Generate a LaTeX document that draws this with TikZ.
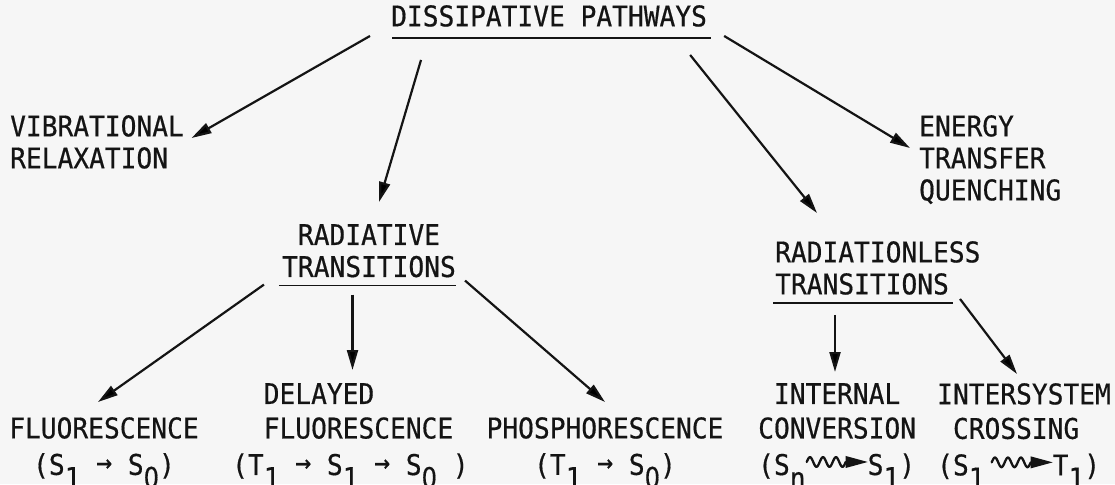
\documentclass[tikz,border=0pt]{standalone}
\usepackage{fontspec}
\newfontfamily\twfont[FakeStretch=0.92,FakeBold=0.5]{DejaVu Sans Mono}
\newfontfamily\zerofont[FakeStretch=0.85,FakeBold=0.5]{DejaVu Sans}
\usetikzlibrary{arrows.meta,calc}
\definecolor{ink}{RGB}{20,20,20}
\definecolor{paper}{RGB}{246,246,246}
\newcommand\lowsub[1]{\raisebox{-13pt}{#1}}
\newcommand\zr{{\zerofont 0}}
\newcommand\tarr{\raisebox{3pt}{→}}
\newcommand\wavearr[1]{\tikz[baseline=0pt,x=1pt,y=1pt]{%
  \pgfmathsetmacro\wend{#1-22}\pgfmathsetmacro\wper{(\wend-4)/3}%
  \draw[ink,line width=2.3pt,line cap=round] plot[domain=4:\wend,samples=90,smooth] (\x,{13+4.8*sin((\x-4)*360/\wper)});
  \fill[ink] (\wend,7) -- (#1,13) -- (\wend,19) -- cycle;}}
\tikzset{
  lbl/.style={font=\twfont\fontsize{28.5}{32}\selectfont, inner sep=0pt, text=ink},
  lblb/.style={lbl, font=\twfont\fontsize{28.5}{34.5}\selectfont},
  conn/.style={draw=ink, line width=2.2pt, -{Triangle[length=20pt,width=11pt]}},
  uline/.style={draw=ink, line width=1.6pt}
}
\begin{document}
\begin{tikzpicture}[x=1pt,y=-1pt]
\useasboundingbox[fill=paper] (0,0) rectangle (1115,484);
% nodes
\node[lbl,anchor=north west] (dp) at (391,5) {DISSIPATIVE PATHWAYS};
\node[lbl,anchor=north west,align=left] (vib) at (10,115) {VIBRATIONAL\\RELAXATION};
\node[lbl,anchor=north west,align=left] (etq) at (919,115) {ENERGY\\TRANSFER\\QUENCHING};
\node[lbl,anchor=north,align=center] (rt) at (369,224) {RADIATIVE\\TRANSITIONS};
\node[lbl,anchor=north west,align=left] (rl) at (775,241) {RADIATIONLESS\\TRANSITIONS};
\node[lblb,anchor=north,align=center] (fl) at (104,417) {FLUORESCENCE\\[2pt](S\lowsub{1} \tarr{} S\lowsub{\zr})};
\node[lblb,anchor=north west,align=left] (dfl) at (232,383) {\phantom{II}DELAYED\\\phantom{II}FLUORESCENCE\\[2pt](T\lowsub{1} \tarr{} S\lowsub{1} \tarr{} S\lowsub{\zr} )};
\node[lblb,anchor=north,align=center] (ph) at (605,417) {PHOSPHORESCENCE\\[2pt](T\lowsub{1} \tarr{} S\lowsub{\zr})};
\node[lblb,anchor=north west,align=left] (ic) at (758,383) {\phantom{I}INTERNAL\\CONVERSION\\[2pt](S\lowsub{n}\wavearr{65}S\lowsub{1})};
\node[lblb,anchor=north west,align=left] (isc) at (937,383) {INTERSYSTEM\\\phantom{I}CROSSING\\[2pt](S\lowsub{1}\hspace{6pt}\wavearr{65}T\lowsub{1})};
% underlines
\draw[uline] ($(dp.south west)+(1,11)$) -- ($(dp.south east)+(3.5,11)$);
\draw[uline] ($(rt.south west)+(-3,8)$) -- ($(rt.south east)+(0,8)$);
\draw[uline] ($(rl.south west)+(-2,8)$) -- ($(rl.south west)+(178,8)$);
% connectors
\draw[conn] ($(dp.south west)+(-21,9)$) -- ($(vib.north east)+(7.5,23)$);
\draw[conn] ($(dp.south west)+(30,33)$) -- ($(rt.north)+(10,-22)$);
\draw[conn] ($(dp.south east)+(-17,28)$) -- ($(rl.north west)+(42,-28)$);
\draw[conn] ($(dp.south east)+(17,9)$) -- ($(etq.north west)+(-9,33)$);
\draw[conn] ($(rt.south west)+(-18,7)$) -- ($(fl.north)+(-6,-15)$);
\draw[conn] ($(rt.south)+(-16.5,17)$) -- ($(dfl.north west)+(120.5,-13)$);
\draw[conn] ($(rt.south east)+(9,3)$) -- ($(ph.north)+(0,-15)$);
\draw[conn] ($(rl.south west)+(60,20)$) -- ($(ic.north west)+(77,-11)$);
\draw[conn] ($(rl.south west)+(185,4)$) -- ($(isc.north west)+(80,-9)$);
\end{tikzpicture}
\end{document}
